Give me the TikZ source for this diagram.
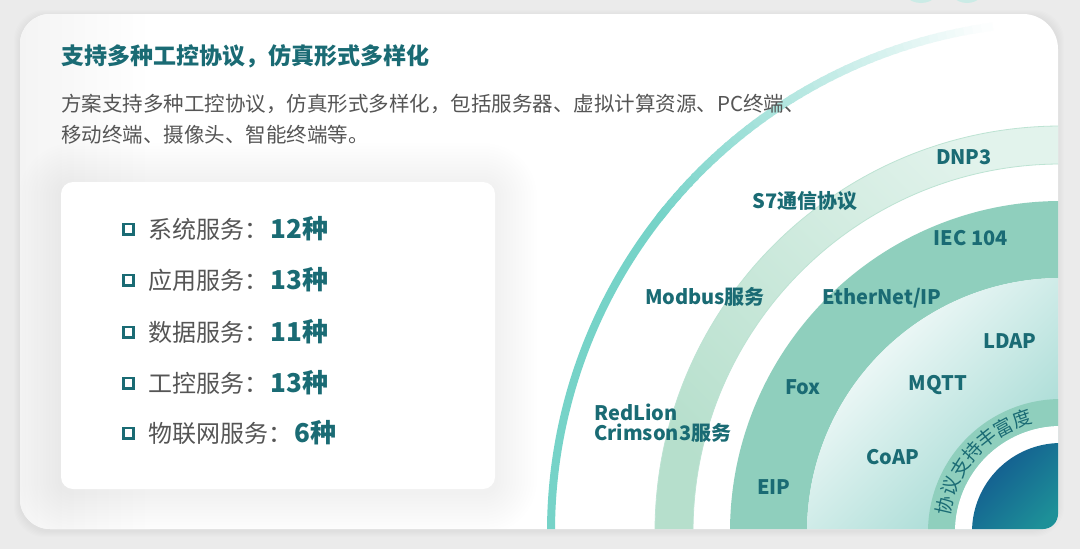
\documentclass[tikz,border=0pt]{standalone}
\usepackage{fontspec}
\setmainfont{Noto Sans CJK SC}
\definecolor{bgc}{HTML}{EBEBEB}
\definecolor{decoteal}{HTML}{CBEBE6}
\definecolor{cardl}{HTML}{F4F4F4}
\definecolor{tdark}{HTML}{1A6B74}
\definecolor{txtgray}{HTML}{555555}
\definecolor{arcteal}{HTML}{76D3C8}
\definecolor{ringAa}{HTML}{B6DFCC}
\definecolor{ringAb}{HTML}{E2F3EC}
\definecolor{ringAedge}{HTML}{BDE3D3}
\definecolor{ringB}{HTML}{8FCFBD}
\definecolor{gradT}{HTML}{9FD8D1}
\definecolor{blueA}{HTML}{12558F}
\definecolor{blueB}{HTML}{1D9098}
\begin{document}
\begin{tikzpicture}[x=1pt,y=-1pt,
  lbl/.style={font=\fontsize{20}{20}\selectfont\bfseries, text=tdark, inner sep=0pt, anchor=base},
  ringtxt/.style={font=\fontsize{19}{19}\selectfont, text=tdark, inner sep=0pt},
  bulletbox/.style={draw=tdark, line width=2.6pt, minimum size=10.4pt, inner sep=0pt},
  itemtxt/.style={font=\fontsize{24}{24}\selectfont, text=txtgray, anchor=base west, inner sep=0pt},
  valtxt/.style={font=\fontsize{26}{26}\selectfont\bfseries, text=tdark, anchor=base west, inner sep=0pt},
  desctxt/.style={font=\fontsize{20.5}{20.5}\selectfont, text=txtgray, anchor=base west, inner sep=0pt},
  listbox/.style={fill=white, rounded corners=12pt, minimum width=434pt, minimum height=307pt, inner sep=0pt},
]
\useasboundingbox (0,0) rectangle (1080,549);
\fill[bgc] (0,0) rectangle (1080,549);
% decorative bits at the top edge
\fill[decoteal] (921,-19) circle (22);
\fill[decoteal] (967,-17) circle (20);
% card shadow
\foreach \i in {1,...,6}{
  \fill[black, opacity=0.006, rounded corners=30pt] (20-\i,14-\i+2) rectangle (1058+\i,529+\i+2);
}
% card
\fill[white] (50,14) -- (1023,14) arc[start angle=270,end angle=360,radius=35]
  -- (1058,514) arc[start angle=0,end angle=90,radius=15]
  -- (50,529) arc[start angle=90,end angle=180,radius=30]
  -- (20,44) arc[start angle=180,end angle=270,radius=30] -- cycle;
\begin{scope}
  \clip (50,14) -- (1023,14) arc[start angle=270,end angle=360,radius=35]
  -- (1058,514) arc[start angle=0,end angle=90,radius=15]
  -- (50,529) arc[start angle=90,end angle=180,radius=30]
  -- (20,44) arc[start angle=180,end angle=270,radius=30] -- cycle;
  \shade[left color=cardl, right color=white] (20,14) rectangle (150,529);
  % list box shadow
  \foreach \i [evaluate=\i as \rr using 12+3*\i, evaluate=\i as \d using 3*\i] in {1,...,14}{
    \fill[black, opacity=0.005, rounded corners=\rr pt] (61-\d,185-\d) rectangle (495+\d,492+\d);
  }
  \node[listbox] (listbox) at (278,335.5) {};
  % rings
  \coordinate (C) at (1061,532);
  \draw[arcteal, line width=8pt] (C) ++(180:510) arc[start angle=180, end angle=219, radius=510];
  \foreach \a [evaluate=\a as \p using {int(100*(262-\a)/44)}] in {218,...,261}{
    \draw[arcteal!\p!white, line width=8pt] (C) ++(\a:510) arc[start angle=\a, end angle=\a+1.3, radius=510];
  }
  \begin{scope}[even odd rule]
    \clip (C) circle (406) (C) circle (368);
    \shade[top color=ringAb, bottom color=ringAa, shading angle=-45] (645,120) rectangle (1061,532);
  \end{scope}
  \draw[ringAedge, line width=0.8pt] (C) circle (406) (C) circle (368);
  \fill[ringB, even odd rule] (C) circle (331) (C) circle (254);
  \begin{scope}
    \clip (C) circle (254);
    \shade[top color=white, bottom color=gradT, shading angle=45] (805,276) rectangle (1061,532);
  \end{scope}
  \fill[ringB, even odd rule] (C) circle (133) (C) circle (106);
  \fill[white] (C) circle (106);
  \begin{scope}
    \clip (C) circle (89);
    \shade[top color=blueA, bottom color=blueB, shading angle=45] (970,441) rectangle (1061,532);
  \end{scope}
  \foreach \ch [count=\k from 0, evaluate=\k as \ang using 193+9.67*\k] in {协,议,支,持,丰,富,度}{
    \node[ringtxt, rotate=270-\ang] (rt\k) at ([shift={(\ang:119.5)}]C) {\ch};
  }
\end{scope}
% left texts
\node[anchor=base west, inner sep=0pt, font=\fontsize{23}{23}\selectfont\bfseries, text=tdark] (title) at (61,64) {支持多种工控协议，仿真形式多样化};
\node[desctxt] (desc1) at (61,111) {方案支持多种工控协议，仿真形式多样化，包括服务器、虚拟计算资源、PC终端、};
\node[desctxt] (desc2) at (61,142) {移动终端、摄像头、智能终端等。};
\foreach \k/\nm/\vl/\yc in {1/系统服务：/12种/229, 2/应用服务：/13种/280, 3/数据服务：/11种/332, 4/工控服务：/13种/383, 5/物联网服务：/6种/433}{
  \node[bulletbox] (b\k) at (128.5,\yc) {};
  \node[itemtxt] (i\k) at (148,\yc+9) {\nm};
  \node[valtxt] (v\k) at ([xshift=2pt]i\k.base east) {\vl};
}
% ring labels
\node[lbl] (dnp) at (964,164) {DNP3};
\node[lbl] (s7) at (805,208) {S7通信协议};
\node[lbl] (iec) at (971,245) {IEC 104};
\node[lbl] (modbus) at (705,304) {Modbus服务};
\node[lbl] (eth) at (882,304) {EtherNet/IP};
\node[lbl] (ldap) at (1010,348) {LDAP};
\node[lbl] (mqtt) at (938,390) {MQTT};
\node[lbl] (fox) at (803,394) {Fox};
\node[lbl, anchor=base west] (red1) at (594,420) {RedLion};
\node[lbl, anchor=base west] (red2) at (594,440) {Crimson3服务};
\node[lbl] (coap) at (893,464) {CoAP};
\node[lbl] (eip) at (774,494) {EIP};
\end{tikzpicture}
\end{document}
